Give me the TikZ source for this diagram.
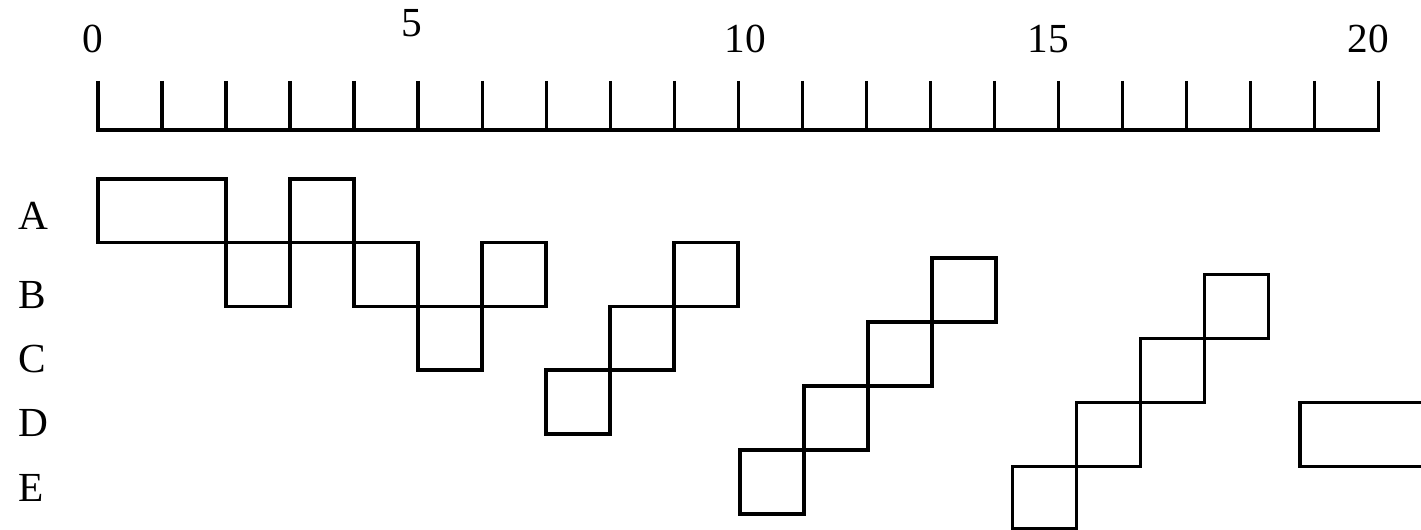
\documentclass[tikz,border=0pt]{standalone}
\usepackage{fontspec}
\setmainfont{Liberation Serif}
\begin{document}
\begin{tikzpicture}[x=0.75pt,y=-0.75pt,line width=2.6pt,
  lbl/.style={font=\fontsize{31}{31}\selectfont,inner sep=0pt,outer sep=0pt},
  num/.style={lbl,anchor=base},
  row/.style={lbl,anchor=base west}]
\useasboundingbox (0,0) rectangle (1421,530);
% ---- scale ----
\coordinate (s0) at (98.2,130);
\coordinate (s20) at (1378.3,130);
\draw (98.2,81) |- (s20) -- (1378.3,81);
\foreach \i in {1,...,19}
  \draw (98.2+64.005*\i,81) -- (98.2+64.005*\i,130);
\node[num] (n0)  at (93.2,52.5)  {0};
\node[num] (n5)  at (412.3,37)   {5};
\node[num] (n10) at (745.3,52.5) {10};
\node[num] (n15) at (1048.6,52.5) {15};
\node[num] (n20) at (1368,52.5)  {20};
% ---- row labels ----
\node[row] (lA) at (18.5,229.3) {A};
\node[row] (lB) at (18.5,309)   {B};
\node[row] (lC) at (18.5,372.8) {C};
\node[row] (lD) at (18.5,436.7) {D};
\node[row] (lE) at (18.5,501.7) {E};
% ---- first group (on the grid) ----
% row A: 178.8-242.6, B: 242.6-306.4, C: 306.4-370.2, D: 370.2-434
\draw (98.2,178.8)  rectangle (226.2,242.6);
\draw (290.2,178.8) rectangle (354.2,242.6);
\draw (226.2,242.6) rectangle (290.2,306.4);
\draw (354.2,242.6) rectangle (418.2,306.4);
\draw (482.2,242.6) rectangle (546.2,306.4);
\draw (418.2,306.4) rectangle (482.2,370.2);
\draw (546.2,370.2) rectangle (610.2,434);
\draw (610.2,306.4) rectangle (674.2,370.2);
\draw (674.2,242.6) rectangle (738.2,306.4);
% ---- second group (shifted down 16) ----
\draw (740,450)   rectangle (804,514);
\draw (804,386)   rectangle (868,450);
\draw (868,322)   rectangle (932,386);
\draw (932,258)   rectangle (996,322);
% ---- third group (shifted down 32) ----
\draw (1012.3,466.7) rectangle (1076.3,528.8);
\draw (1076.3,402.7) rectangle (1140.3,466.7);
\draw (1140.3,338.5) rectangle (1204.3,402.7);
\draw (1204.3,274.3) rectangle (1268.3,338.5);
\draw (1425,402.7) -- (1300,402.7) -- (1300,466.7) -- (1425,466.7);
\end{tikzpicture}
\end{document}
